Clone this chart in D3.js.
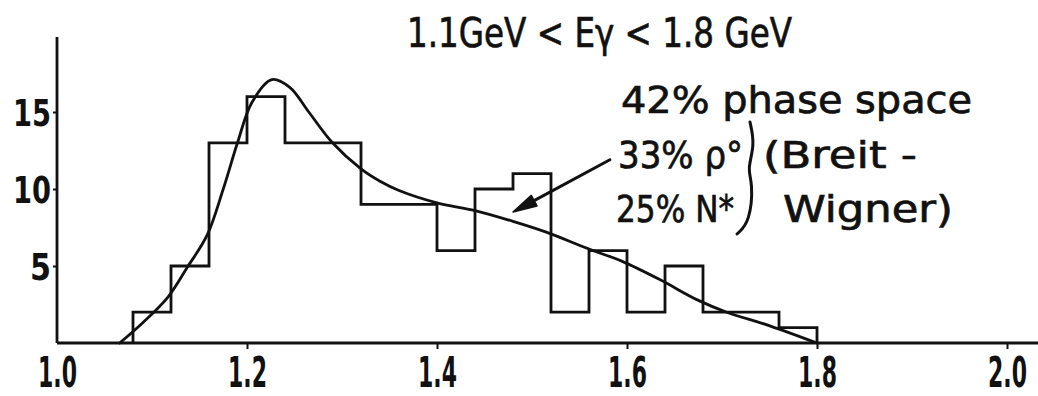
<!DOCTYPE html>
<html>
<head>
<meta charset="utf-8">
<script src="https://cdn.jsdelivr.net/npm/d3@7"></script>
<style>
  html, body { margin: 0; padding: 0; background: #fff; }
  svg { display: block; }
  .lbl { font-family: "DejaVu Sans", sans-serif; fill: #111; stroke: #111; stroke-width: 0.7px; }
  .tick text { font-family: "DejaVu Sans", sans-serif; font-weight: bold; fill: #111; }
</style>
</head>
<body>
<svg id="chart" width="1038" height="396"></svg>
<script>
// Invariant-mass spectrum, 1.1 GeV < E_gamma < 1.8 GeV
const binStart = 1.08;
const binWidth = 0.04;
const counts = [2, 5, 13, 16, 13, 13, 9, 9, 6, 10, 11, 2, 6, 2, 5, 2, 2, 1];

// Fitted curve (phase space + rho0 + N* Breit-Wigner mixture)
const fitMass = [1.066, 1.09, 1.117, 1.137, 1.158, 1.175, 1.19, 1.205, 1.226, 1.245, 1.265, 1.29,
                 1.32, 1.34, 1.36, 1.40, 1.44, 1.48, 1.515, 1.56, 1.595, 1.635, 1.674, 1.705, 1.751, 1.80];
const fitCount = [0, 1.3, 3.0, 4.9, 7.0, 10.0, 13.0, 15.6, 17.1, 16.6, 15.0, 13.0,
                  11.3, 10.5, 9.9, 9.1, 8.6, 7.9, 7.2, 6.1, 5.3, 4.1, 2.8, 2.0, 1.1, 0];

const xTicks = [1.0, 1.2, 1.4, 1.6, 1.8, 2.0];
const xTickLabels = ["1.0", "1.2", "1.4", "1.6", "1.8", "2.0"];
const yTicks = [5, 10, 15];
const yTickLabels = ["5", "10", "15"];

const title = "1.1GeV < Eγ < 1.8 GeV";
const noteLines = ["42% phase space", "33% ρ°", "(Breit -", "25% N*", "Wigner)"];

const svg = d3.select("#chart");
const x = d3.scaleLinear().domain([1.0, 2.0]).range([57, 1007]);
const y = d3.scaleLinear().domain([0, 15]).range([343, 112]);

const ink = "#111";
const lw = 2.8;

// Squeeze a label horizontally to a target width (narrow lettering)
function narrow(sel, target, anchorX) {
  sel.each(function (d, i) {
    const t = d3.select(this);
    const w = this.getComputedTextLength();
    const s = Math.min(1, (typeof target === "function" ? target(i) : target) / w);
    t.attr("x", anchorX / s).attr("transform", `scale(${s},1)`);
  });
}

// Histogram as a stepped outline
const steps = counts.map((c, i) => [binStart + i * binWidth, c]);
steps.unshift([binStart, 0]);
steps.push([binStart + counts.length * binWidth, counts[counts.length - 1]]);
steps.push([binStart + counts.length * binWidth, 0]);
svg.append("path")
  .attr("d", d3.line().x(d => x(d[0])).y(d => y(d[1])).curve(d3.curveStepAfter)(steps))
  .attr("fill", "none").attr("stroke", ink).attr("stroke-width", lw)
  .attr("stroke-linejoin", "miter");

// Fit curve
const fit = fitMass.map((m, i) => [m, fitCount[i]]);
svg.append("path")
  .attr("d", d3.line().x(d => x(d[0])).y(d => y(d[1])).curve(d3.curveCatmullRom.alpha(0.5))(fit))
  .attr("fill", "none").attr("stroke", ink).attr("stroke-width", lw)
  .attr("stroke-linecap", "round");

// Axes
const xAxis = svg.append("g").attr("transform", `translate(0,${y(0)})`)
  .call(d3.axisBottom(x).tickValues(xTicks).tickSize(6).tickSizeOuter(0)
    .tickFormat((d, i) => xTickLabels[i]));
xAxis.select(".domain").remove();
xAxis.selectAll(".tick line").attr("stroke", ink).attr("stroke-width", 2)
  .filter((d, i) => i === 0).remove();
xAxis.selectAll(".tick text").attr("font-size", 42).attr("dy", null).attr("y", 44)
  .call(narrow, 39, 0);

svg.append("line").attr("x1", x(1.0)).attr("x2", 1038).attr("y1", y(0)).attr("y2", y(0))
  .attr("stroke", ink).attr("stroke-width", lw);

const yAxis = svg.append("g").attr("transform", `translate(${x(1.0)},0)`)
  .call(d3.axisLeft(y).tickValues(yTicks).tickSize(4).tickSizeOuter(0)
    .tickFormat((d, i) => yTickLabels[i]));
yAxis.select(".domain").remove();
yAxis.selectAll(".tick line").attr("stroke", ink).attr("stroke-width", 2);
yAxis.selectAll(".tick text").attr("font-size", 37).attr("dy", "0.36em")
  .call(narrow, i => (yTickLabels[i].length > 1 ? 38 : 21), -6);
svg.append("line").attr("x1", x(1.0)).attr("x2", x(1.0)).attr("y1", 37).attr("y2", y(0))
  .attr("stroke", ink).attr("stroke-width", lw);

// Title
svg.append("text").attr("class", "lbl").attr("x", 407).attr("y", 47)
  .attr("font-size", 40).attr("textLength", 385).attr("lengthAdjust", "spacingAndGlyphs")
  .text(title);

// Fit composition note
const notes = [
  { t: noteLines[0], x: 621, y: 113, w: 351 },
  { t: noteLines[1], x: 618, y: 168, w: 125 },
  { t: noteLines[2], x: 763, y: 168, w: 154 },
  { t: noteLines[3], x: 616, y: 222, w: 118 },
  { t: noteLines[4], x: 783, y: 222, w: 170 }
];
svg.selectAll("text.note").data(notes).join("text")
  .attr("class", "lbl note")
  .attr("x", d => d.x).attr("y", d => d.y)
  .attr("font-size", 38)
  .attr("textLength", d => d.w).attr("lengthAdjust", "spacingAndGlyphs")
  .text(d => d.t);

// Hand-drawn brace grouping the two Breit-Wigner terms
const brace = [[750, 122], [755, 145], [747, 170], [753, 182], [750, 222], [737, 234]];
svg.append("path")
  .attr("d", d3.line().curve(d3.curveBasis)(brace))
  .attr("fill", "none").attr("stroke", ink).attr("stroke-width", 3)
  .attr("stroke-linecap", "round");

// Arrow from the note down to the curve
const tail = [1.582, 11.9], tip = [1.48, 8.5];
const tx = x(tail[0]), ty = y(tail[1]), hx = x(tip[0]), hy = y(tip[1]);
const ang = Math.atan2(hy - ty, hx - tx);
const headLen = 24, headHalf = 6;
const bx = hx - headLen * Math.cos(ang), by = hy - headLen * Math.sin(ang);
svg.append("line").attr("x1", tx).attr("y1", ty).attr("x2", bx).attr("y2", by)
  .attr("stroke", ink).attr("stroke-width", 3).attr("stroke-linecap", "round");
svg.append("path")
  .attr("d", `M${hx},${hy}L${bx + headHalf * Math.sin(ang)},${by - headHalf * Math.cos(ang)}` +
             `L${bx - headHalf * Math.sin(ang)},${by + headHalf * Math.cos(ang)}Z`)
  .attr("fill", ink).attr("stroke", ink).attr("stroke-width", 1.5).attr("stroke-linejoin", "round");
</script>
</body>
</html>
